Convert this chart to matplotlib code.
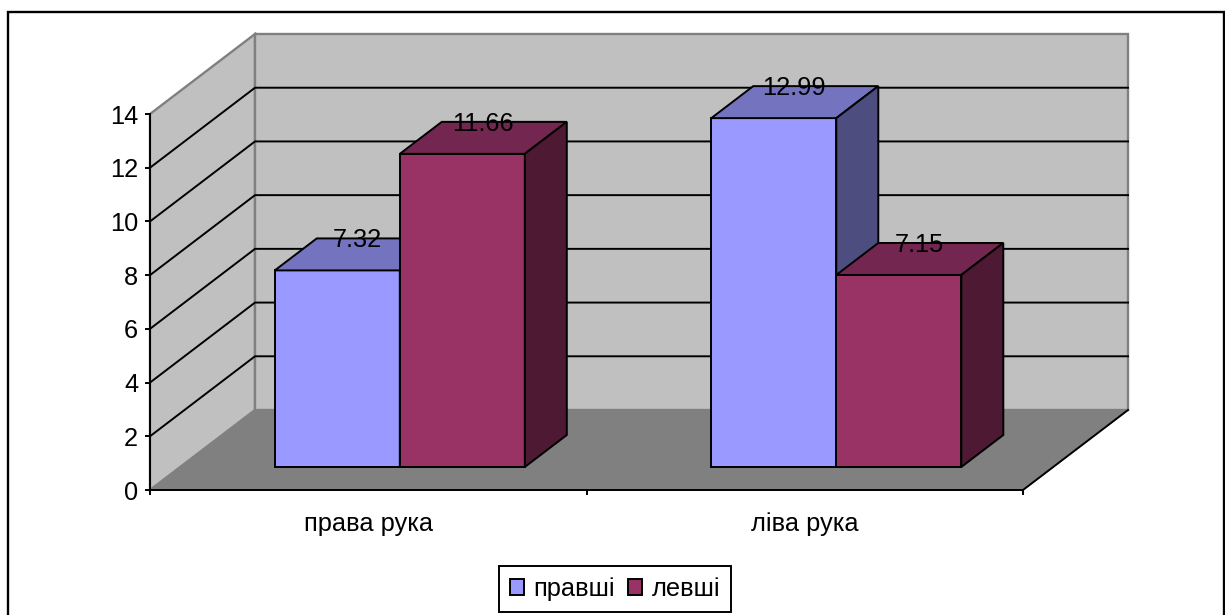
import matplotlib
matplotlib.use("Agg")
import matplotlib.pyplot as plt
from matplotlib.patches import Polygon, Patch, Rectangle

plt.rcParams['font.family'] = ['Liberation Sans', 'DejaVu Sans']

categories = ['права рука', 'ліва рука']
series_names = ['правші', 'левші']
right_handed = [7.32, 12.99]
left_handed = [11.66, 7.15]
y_ticks = [0, 2, 4, 6, 8, 10, 12, 14]

W, H = 1225, 615
FS = 18.3
LW = 1.4

# colours: front, top, side
blue = ['#9999FF', '#7373BF', '#4D4D80']
maroon = ['#993366', '#732650', '#4D1933']
wall_col = '#C0C0C0'
floor_col = '#808080'

fig = plt.figure(figsize=(W/100, H/100), dpi=100)
ax = fig.add_axes([150/W, 1-490/H, 873/W, 376/H])
ax.set_xlim(0, len(categories))
ax.set_ylim(0, 14)

# shift of the back of the box, in data units
kx = 105/873*2
ky = 80/376*14


def proj(x, v, d):
    return (x + d*kx, v + d*ky)


def face(pts, col, ec='black', lw=LW, z=2):
    ax.add_patch(Polygon(pts, closed=True, facecolor=col, edgecolor=ec, linewidth=lw,
                         joinstyle='miter', clip_on=False, zorder=z))


# walls and floor
face([proj(0, 0, 0), proj(0, 14, 0), proj(0, 14, 1), proj(0, 0, 1)], wall_col, ec=floor_col, lw=1.7, z=1)
face([proj(0, 0, 1), proj(0, 14, 1), proj(2, 14, 1), proj(2, 0, 1)], wall_col, ec=floor_col, lw=1.7, z=1)
face([proj(0, 0, 0), proj(0, 0, 1), proj(2, 0, 1), proj(2, 0, 0)], floor_col, ec=floor_col, lw=0.8, z=1.1)

# right edge of the floor
p0, p1 = proj(2, 0, 0), proj(2, 0, 1)
ax.plot([p0[0], p1[0]], [p0[1], p1[1]], color='black', lw=LW, clip_on=False, zorder=1.2)

# gridlines on the side wall and back wall
for t in y_ticks[1:-1]:
    a, b, c = proj(0, t, 0), proj(0, t, 1), proj(2, t, 1)
    ax.plot([a[0], b[0], c[0]], [a[1], b[1], c[1]], color='black', lw=LW, clip_on=False, zorder=1.5)

# bars
bar_w = 0.2864
x_off = 0.2167
d0, d1 = 0.2875, 0.6875
for c in range(len(categories)):
    for s, (vals, cols) in enumerate([(right_handed, blue), (left_handed, maroon)]):
        x0 = c + x_off + s*bar_w
        x1 = x0 + bar_w
        v = vals[c]
        face([proj(x0, 0, d0), proj(x1, 0, d0), proj(x1, v, d0), proj(x0, v, d0)], cols[0], z=3+s)
        face([proj(x0, v, d0), proj(x1, v, d0), proj(x1, v, d1), proj(x0, v, d1)], cols[1], z=3+s)
        face([proj(x1, 0, d0), proj(x1, 0, d1), proj(x1, v, d1), proj(x1, v, d0)], cols[2], z=3+s)

        xm = (x0 + x1)/2
        xy = (proj(xm, v, (d0+d1)/2)[0], proj(xm, v, d1)[1])
        ax.annotate('%.2f' % v, xy=xy, xytext=(-0.5, -1.5), textcoords='offset points', ha='center', va='center',
                    fontsize=FS, color='black', zorder=10, annotation_clip=False)

# axes
for side in ['top', 'right']:
    ax.spines[side].set_visible(False)
for side in ['left', 'bottom']:
    ax.spines[side].set_linewidth(LW)
    ax.spines[side].set_zorder(6)
ax.patch.set_visible(False)
ax.set_yticks(y_ticks)
ax.tick_params(axis='y', length=3.6, width=LW, pad=5, labelsize=FS)
ax.set_xticks([0, 1, 2])
ax.set_xticklabels([])
ax.set_xticks([i + 0.5 for i in range(len(categories))], labels=categories, minor=True)
ax.tick_params(axis='x', which='major', length=3.6, width=LW)
ax.tick_params(axis='x', which='minor', length=0, pad=15.5, labelsize=FS)

# legend
handles = [Patch(facecolor=blue[0], edgecolor='black', linewidth=LW, label=series_names[0]),
           Patch(facecolor=maroon[0], edgecolor='black', linewidth=LW, label=series_names[1])]
leg = fig.legend(handles=handles, loc='center', bbox_to_anchor=(615/W, 1-589/H), ncol=2, fontsize=FS,
                 frameon=True, fancybox=False, framealpha=1, edgecolor='black',
                 handlelength=0.56, handleheight=0.56, handletextpad=0.38, columnspacing=0.5,
                 borderpad=0.42, borderaxespad=0)
leg.get_frame().set_linewidth(LW)

# chart area border runs off the bottom of the canvas
fig.add_artist(Rectangle((8/W, -0.05), 1216/W, 1.05-11.5/H, transform=fig.transFigure,
                         facecolor='none', edgecolor='black', linewidth=1.7))

fig.savefig('out.png', dpi=100)
